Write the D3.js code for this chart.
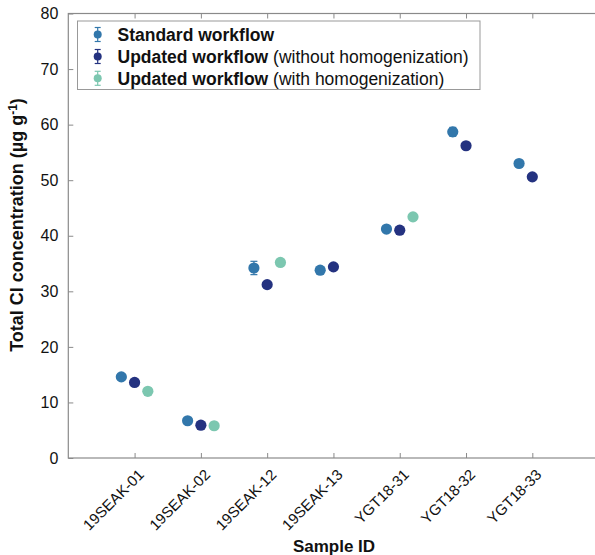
<!DOCTYPE html>
<html><head><meta charset="utf-8">
<script src="https://cdn.jsdelivr.net/npm/d3@7"></script>
<style>body{margin:0;background:#fff}svg{display:block;font-family:"Liberation Sans",Arial,sans-serif}</style>
</head><body><svg id="c" width="595" height="555"></svg>
<script>
const categories = ["19SEAK-01","19SEAK-02","19SEAK-12","19SEAK-13","YGT18-31","YGT18-32","YGT18-33"];
const standard = [14.6, 6.7, 34.2, 33.8, 41.2, 58.7, 53.0];
const standardErr = [0.4, 0.3, 1.2, 0.4, 0.4, 0.8, 0.3];
const updatedNoHom = [13.6, 5.9, 31.2, 34.4, 41.0, 56.2, 50.6];
const updatedNoHomErr = [0.3, 0.2, 0.4, 0.3, 0.3, 0.3, 0.3];
const updatedHom = [12.0, 5.8, 35.2, null, 43.4, null, null];
const updatedHomErr = [0.3, 0.2, 0.3, null, 0.3, null, null];
const yTicks = [0,10,20,30,40,50,60,70,80];
const seriesNames = ["Standard workflow","Updated workflow","Updated workflow"];
const seriesNotes = [""," (without homogenization)"," (with homogenization)"];
const colors = ["#3277ab","#243280","#7cc7b0"];
const offsets = [-0.2, 0, 0.2];

const svg = d3.select("#c");
const L=68.3, R=598.6, T=13.5, B=458;
const x = d3.scaleLinear().domain([0,8]).range([L,R]);
const y = d3.scaleLinear().domain([0,80]).range([B,T]);
const axisColor = "#8a8a8a";

svg.append("rect").attr("x",L).attr("y",T).attr("width",R-L).attr("height",B-T)
  .attr("fill","none").attr("stroke",axisColor).attr("stroke-width",1.2);

const xt = categories.map((d,i)=>i+1);
const ya = svg.append("g").attr("transform",`translate(${L},0)`)
  .call(d3.axisLeft(y).tickValues(yTicks).tickSize(-5).tickPadding(10));
ya.select(".domain").remove();
ya.selectAll("line").attr("stroke",axisColor);
ya.selectAll("text").attr("font-size",16).attr("fill","#111");
const xa = svg.append("g").attr("transform",`translate(0,${B})`)
  .call(d3.axisBottom(x).tickValues(xt).tickSize(-5).tickFormat((d)=>categories[d-1]));
xa.select(".domain").remove();
xa.selectAll("line").attr("stroke",axisColor);
xa.selectAll("text").attr("font-size",15).attr("fill","#111")
  .attr("text-anchor","end").attr("dy","0.35em")
  .attr("transform","translate(6,14) rotate(-45)")
  .attr("x",0).attr("y",0);
const xtop = svg.append("g").attr("transform",`translate(0,${T})`)
  .call(d3.axisTop(x).tickValues(xt).tickSize(-5).tickFormat(""));
xtop.select(".domain").remove();
xtop.selectAll("line").attr("stroke",axisColor);

const allSeries = [[standard,standardErr],[updatedNoHom,updatedNoHomErr],[updatedHom,updatedHomErr]];
allSeries.forEach(([vals,errs],si)=>{
  const g = svg.append("g");
  const pts = vals.map((v,i)=>({x:i+1+offsets[si],v,e:errs[i]})).filter(d=>d.v!=null);
  pts.forEach(p=>{
    const cx=x(p.x), y1=y(p.v+p.e), y2=y(p.v-p.e);
    g.append("line").attr("x1",cx).attr("x2",cx).attr("y1",y1).attr("y2",y2).attr("stroke",colors[si]).attr("stroke-width",1.2);
    [y1,y2].forEach(yy=>g.append("line").attr("x1",cx-3.5).attr("x2",cx+3.5).attr("y1",yy).attr("y2",yy).attr("stroke",colors[si]).attr("stroke-width",1.2));
  });
  g.selectAll("circle").data(pts).join("circle")
    .attr("cx",d=>x(d.x)).attr("cy",d=>y(d.v)).attr("r",5.6).attr("fill",colors[si]);
});

const lg = svg.append("g");
lg.append("rect").attr("x",77.5).attr("y",21).attr("width",402.5).attr("height",68.5)
  .attr("fill","#fff").attr("stroke","#999").attr("stroke-width",1);
const rowsY=[34.5,56.5,78.3];
seriesNames.forEach((n,i)=>{
  const cy=rowsY[i], cx=97.7;
  lg.append("line").attr("x1",cx).attr("x2",cx).attr("y1",cy-7).attr("y2",cy+7).attr("stroke",colors[i]).attr("stroke-width",1.2);
  [cy-7,cy+7].forEach(yy=>lg.append("line").attr("x1",cx-3).attr("x2",cx+3).attr("y1",yy).attr("y2",yy).attr("stroke",colors[i]).attr("stroke-width",1.2));
  lg.append("circle").attr("cx",cx).attr("cy",cy).attr("r",4).attr("fill",colors[i]);
  const t=lg.append("text").attr("x",117.5).attr("y",cy).attr("dy","0.36em").attr("font-size",17.5).attr("fill","#111");
  t.append("tspan").attr("font-weight","bold").text(n);
  t.append("tspan").text(seriesNotes[i]);
});

svg.append("text").attr("x",334).attr("y",552).attr("text-anchor","middle")
  .attr("font-size",17).attr("font-weight","bold").attr("fill","#111").text("Sample ID");
const yl = svg.append("text").attr("transform","translate(23,225) rotate(-90)").attr("text-anchor","middle")
  .attr("font-size",18).attr("font-weight","bold").attr("fill","#111");
yl.append("tspan").text("Total Cl concentration (µg g");
yl.append("tspan").attr("font-size",12).attr("dy",-6).text("-1");
yl.append("tspan").attr("dy",6).text(")");
</script></body></html>
